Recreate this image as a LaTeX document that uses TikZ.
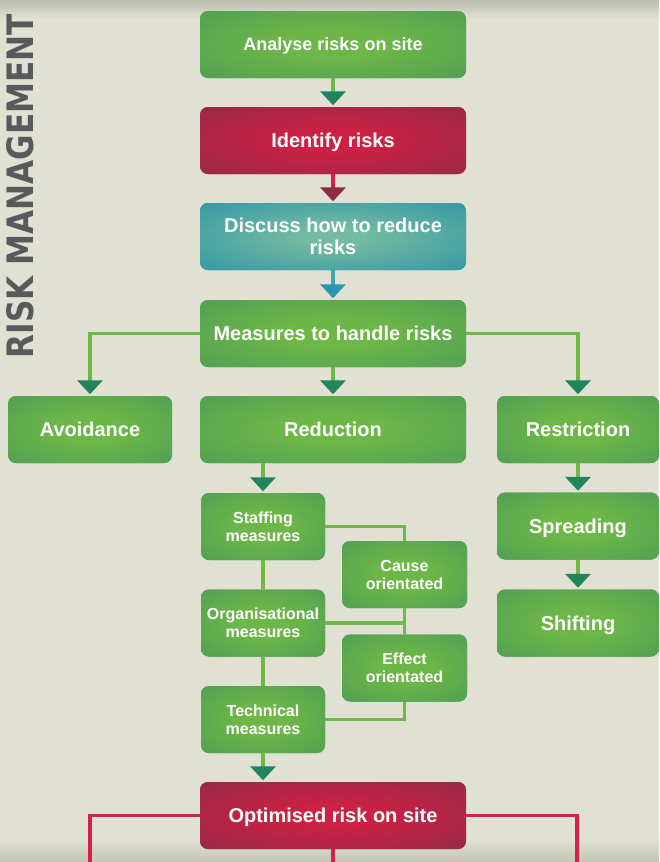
\documentclass[tikz,border=0pt]{standalone}
\usepackage{fontspec}
\setmainfont{Liberation Sans}
\newfontfamily\titlefont{DejaVu Sans}
\usetikzlibrary{arrows.meta}
\definecolor{bgcol}{HTML}{E0E1D2}
\definecolor{bgtop}{HTML}{B9BDAB}
\definecolor{bgbot}{HTML}{C4C6B3}
\definecolor{gIn}{HTML}{6DB648}
\definecolor{gOut}{HTML}{42945A}
\definecolor{rIn}{HTML}{CC2142}
\definecolor{rOut}{HTML}{7D2D4C}
\definecolor{tIn}{HTML}{74BAA0}
\definecolor{tOut}{HTML}{1788A9}
\definecolor{lineG}{HTML}{6CB946}
\definecolor{tipG}{HTML}{21845E}
\definecolor{lineR}{HTML}{D42149}
\definecolor{tipR}{HTML}{8F2A48}
\definecolor{lineT}{HTML}{3FA6B4}
\definecolor{tipT}{HTML}{2896AE}
\definecolor{titlegray}{HTML}{58595B}
\pgfdeclareradialshading{glowgreen}{\pgfpoint{0bp}{0bp}}{color(0bp)=(gIn);color(10bp)=(gIn);color(50bp)=(gOut)}
\pgfdeclareradialshading{glowred}{\pgfpoint{0bp}{0bp}}{color(0bp)=(rIn);color(8bp)=(rIn);color(50bp)=(rOut)}
\pgfdeclareradialshading{glowteal}{\pgfpoint{0bp}{0bp}}{color(0bp)=(tIn);color(6bp)=(tIn);color(50bp)=(tOut)}
\tikzset{
  box/.style={rounded corners=8pt, minimum height=67pt, inner sep=0pt, text=white,
    font=\fontsize{20}{22}\selectfont\bfseries, align=center,
    text height=14.3pt, text depth=0pt},
  twoline/.style={text height=36.3pt, text depth=0pt},
  wide/.style={minimum width=266pt},
  gbox/.style={box, preaction={fill=gOut}, shade, shading=glowgreen},
  rbox/.style={box, preaction={fill=rOut}, shade, shading=glowred},
  tbox/.style={box, preaction={fill=tOut}, shade, shading=glowteal},
  smallbox/.style={gbox, font=\fontsize{16}{18}\selectfont\bfseries,
    text height=29.5pt, text depth=0pt},
  gline/.style={draw=lineG, line width=3.5pt},
  garrow/.style={gline, -{Triangle[width=25pt,length=14pt,color=tipG]}, shorten >=1.5pt},
  rarrow/.style={draw=lineR, line width=3.5pt, -{Triangle[width=25pt,length=14pt,color=tipR]}, shorten >=1.5pt},
  tarrow/.style={draw=lineT, line width=3.5pt, -{Triangle[width=25pt,length=14pt,color=tipT]}, shorten >=1.5pt},
  rline/.style={draw=lineR, line width=3.5pt},
}
\begin{document}
\begin{tikzpicture}[x=1pt,y=-1pt]
\useasboundingbox (0,0) rectangle (659,862);
\fill[bgcol] (0,0) rectangle (659,862);
\shade[top color=bgtop, bottom color=bgcol] (0,0) rectangle (659,18);
\shade[top color=bgcol, bottom color=bgbot] (0,838) rectangle (659,862);

\node[text=titlegray, rotate=90, inner sep=0pt] (title) at (20,186)
  {\resizebox{344pt}{27pt}{\titlefont\bfseries RISK MANAGEMENT}};

\node[gbox, wide, font=\fontsize{18}{22}\selectfont\bfseries, text height=12.9pt] (analyse) at (333,44.5) {Analyse risks on site};
\node[rbox, wide] (identify) at (333,140.5) {Identify risks};
\node[tbox, wide, twoline] (discuss) at (333,236.5) {Discuss how to reduce\\risks};
\node[gbox, wide] (measures) at (333,333.5) {Measures to handle risks};
\node[gbox, minimum width=164pt] (avoid) at (90,429.5) {Avoidance};
\node[gbox, wide] (reduction) at (333,429.5) {Reduction};
\node[gbox, minimum width=162pt] (restrict) at (578,429.5) {Restriction};
\node[gbox, minimum width=162pt] (spread) at (578,526) {Spreading};
\node[gbox, minimum width=162pt] (shift) at (578,623) {Shifting};

\node[smallbox, minimum width=124pt] (staff) at (263,526.5) {Staffing\\measures};
\node[smallbox, minimum width=125pt] (cause) at (404.5,574.5) {Cause\\orientated};
\node[smallbox, minimum width=124pt] (organ) at (263,623) {Organisational\\measures};
\node[smallbox, minimum width=125pt] (effect) at (404.5,668) {Effect\\orientated};
\node[smallbox, minimum width=124pt] (tech) at (263,719.5) {Technical\\measures};

\node[rbox, wide] (optim) at (333,815.5) {Optimised risk on site};

% main chain
\draw[garrow] (analyse) -- (identify);
\draw[rarrow] (identify) -- (discuss);
\draw[tarrow] (discuss) -- (measures);
\draw[garrow] (measures.west) -| (avoid.north);
\draw[garrow] (measures) -- (reduction);
\draw[garrow] (measures.east) -| (restrict.north);
\draw[garrow] (restrict) -- (spread);
\draw[garrow] (spread) -- (shift);
\draw[garrow] (reduction.south -| staff.north) -- (staff.north);

% measures network
\draw[gline] (staff) -- (organ);
\draw[gline] (organ) -- (tech);
\draw[gline] (staff.east) -| (cause.north);
\draw[gline] (cause) -- (effect);
\draw[gline] (organ.east) -- (organ.east -| cause.south);
\draw[gline] (tech.east) -| (effect.south);
\draw[garrow] (tech.south) -- (tech.south |- optim.north);

% bottom red lines
\coordinate (redL) at (90,866);
\coordinate (redR) at (577,866);
\coordinate (redM) at (333,866);
\draw[rline] (optim.west) -| (redL);
\draw[rline] (optim.east) -| (redR);
\draw[rline] (optim.south) -- (redM);
\end{tikzpicture}
\end{document}
